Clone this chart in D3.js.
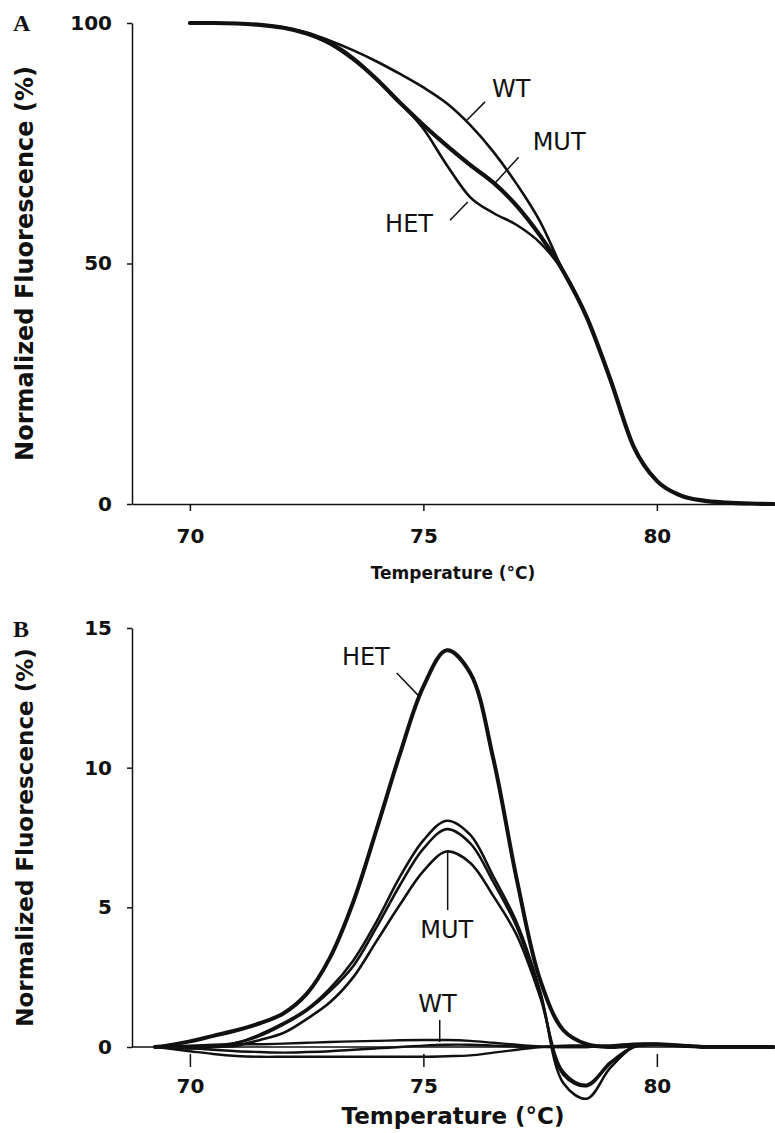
<!DOCTYPE html>
<html>
<head>
<meta charset="utf-8">
<script src="https://cdn.jsdelivr.net/npm/d3@7"></script>
<style>
body { margin: 0; background: #fff; }
</style>
</head>
<body>
<script>
// Panel A: normalized melting curves
var tempsA = [70, 70.5, 71, 71.5, 72, 72.5, 73, 73.5, 74, 74.5, 75, 75.5, 76, 76.5, 77, 77.5, 78, 78.5, 79, 79.5, 80, 80.5, 81, 81.5, 82, 82.5];
var wtA  = [100, 100, 99.9, 99.6, 99.1, 98.0, 96.3, 94.3, 92.0, 89.4, 86.6, 83.3, 78.8, 73.2, 66.5, 58.7, 48.3, 38.8, 26.0, 12.0, 4.8, 1.8, 0.7, 0.3, 0.1, 0];
var mutA = [100, 100, 99.9, 99.6, 99.0, 97.8, 95.8, 92.6, 88.3, 83.4, 78.8, 74.5, 70.5, 66.8, 62.0, 55.8, 48.3, 38.8, 26.0, 12.0, 4.8, 1.8, 0.7, 0.3, 0.1, 0];
var hetA = [100, 100, 99.9, 99.6, 99.0, 97.8, 95.6, 92.3, 88.2, 83.5, 78.0, 70.5, 63.8, 60.5, 58.0, 54.3, 48.3, 38.8, 26.0, 12.0, 4.8, 1.8, 0.7, 0.3, 0.1, 0];

// Panel B: difference curves (3 replicates per genotype)
var tempsB = [69.25, 69.5, 70, 70.5, 71, 71.5, 72, 72.5, 73, 73.5, 74, 74.5, 75, 75.5, 76, 76.5, 77, 77.5, 78, 78.5, 79, 79.5, 80, 80.5, 81, 81.5, 82, 82.5];
var hetB  = [0, 0.05, 0.2, 0.4, 0.6, 0.85, 1.2, 1.9, 3.2, 5.2, 7.8, 10.5, 12.9, 14.2, 13.4, 10.3, 6.0, 2.4, 0.6, 0.1, 0, 0.05, 0.1, 0.05, 0, 0, 0, 0];
var mut1B = [0, 0, -0.05, 0, 0.15, 0.45, 0.85, 1.35, 2.1, 3.1, 4.5, 6.1, 7.4, 8.1, 7.6, 6.1, 4.45, 2.0, -1.3, -1.85, -0.75, 0, 0.1, 0.05, 0, 0, 0, 0];
var mut2B = [0, 0, 0, 0.05, 0.15, 0.4, 0.8, 1.3, 2.0, 2.9, 4.3, 5.8, 7.1, 7.8, 7.3, 5.9, 4.3, 1.9, -1.0, -1.4, -0.6, 0, 0.1, 0.05, 0, 0, 0, 0];
var mut3B = [0, 0, 0, 0, 0.05, 0.25, 0.5, 1.0, 1.6, 2.5, 3.8, 5.1, 6.3, 7.0, 6.6, 5.4, 4.0, 1.8, -0.9, -1.35, -0.55, 0, 0.1, 0.05, 0, 0, 0, 0];
var wt1B  = [0, 0.02, 0.05, 0.08, 0.1, 0.1, 0.12, 0.15, 0.18, 0.2, 0.22, 0.24, 0.25, 0.25, 0.22, 0.15, 0.08, 0.02, 0, 0, 0.05, 0.12, 0.12, 0.05, 0.02, 0, 0, 0];
var wt2B  = [0, -0.05, -0.15, -0.25, -0.32, -0.35, -0.35, -0.35, -0.35, -0.35, -0.35, -0.35, -0.35, -0.33, -0.3, -0.2, -0.1, 0, 0.05, 0.05, 0.05, 0.1, 0.1, 0.05, 0, 0, 0, 0];
var wt3B  = [0, -0.02, -0.05, -0.1, -0.15, -0.18, -0.2, -0.18, -0.15, -0.1, -0.05, 0, 0.05, 0.08, 0.08, 0.05, 0.02, 0, 0, 0, 0.03, 0.08, 0.08, 0.03, 0, 0, 0, 0];

var xTicks = [70, 75, 80];
var yTicksA = [0, 50, 100];
var yTicksB = [0, 5, 10, 15];

// labels: [text, temperature, value, anchor]
var labelsA = [["WT", 76.47, 84.6, "start"], ["MUT", 77.34, 73.6, "start"], ["HET", 74.18, 56.5, "start"]];
var leadersA = [[76.32, 83.6, 75.93, 79.8], [77.04, 72.1, 76.53, 66.7], [75.95, 62.8, 75.57, 59.0]];
var labelsB = [["HET", 74.28, 13.68, "end"], ["MUT", 75.5, 3.9, "middle"], ["WT", 75.3, 1.25, "middle"]];
var leadersB = [[74.43, 13.39, 74.9, 12.57], [75.52, 7.05, 75.52, 4.9], [75.35, 0.97, 75.35, 0.18]];

var W = 775, H = 1133;
var svg = d3.select("body").append("svg").attr("width", W).attr("height", H);
var ink = "#111";
var sans = "DejaVu Sans, Verdana, sans-serif";

var x = d3.scaleLinear().domain([68.76, 82.53]).range([132, 775]);
var yA = d3.scaleLinear().domain([0, 100]).range([504, 23]);
var yB = d3.scaleLinear().domain([0, 15]).range([1047, 628]);

function styleAxis(g, size) {
  g.selectAll("path, line").attr("stroke", ink).attr("stroke-width", 1.5);
  g.selectAll("text").attr("fill", ink).attr("font-family", sans)
    .attr("font-weight", "bold").attr("font-size", size);
}

function drawLine(yScale, temps, vals, width, curve) {
  svg.append("path")
    .datum(temps.map((t, i) => [t, vals[i]]))
    .attr("fill", "none").attr("stroke", ink).attr("stroke-width", width)
    .attr("stroke-linejoin", "round").attr("stroke-linecap", "round")
    .attr("d", d3.line().x(d => x(d[0])).y(d => yScale(d[1])).curve(curve));
}

function drawLabels(yScale, labels, leaders) {
  leaders.forEach(l => {
    svg.append("line")
      .attr("x1", x(l[0])).attr("y1", yScale(l[1]))
      .attr("x2", x(l[2])).attr("y2", yScale(l[3]))
      .attr("stroke", ink).attr("stroke-width", 1.5);
  });
  labels.forEach(l => {
    svg.append("text").attr("x", x(l[1])).attr("y", yScale(l[2]))
      .attr("text-anchor", l[3]).attr("font-family", sans)
      .attr("font-size", 24).attr("fill", ink).text(l[0]);
  });
}

function yTitle(cx, cy, size) {
  svg.append("text")
    .attr("transform", "translate(" + cx + "," + cy + ") rotate(-90)")
    .attr("text-anchor", "middle").attr("dy", "0.36em")
    .attr("font-family", sans).attr("font-weight", "bold")
    .attr("font-size", size).attr("fill", ink)
    .text("Normalized Fluorescence (%)");
}

function panelLetter(txt, px, py) {
  svg.append("text").attr("x", px).attr("y", py)
    .attr("font-family", "Liberation Serif, Times New Roman, serif")
    .attr("font-weight", "bold").attr("font-size", 24).attr("fill", ink)
    .text(txt);
}

// ---------- Panel A ----------
var gxA = svg.append("g").attr("transform", "translate(0," + yA(0) + ")")
  .call(d3.axisBottom(x).tickValues(xTicks).tickSize(7).tickSizeOuter(0).tickPadding(18));
styleAxis(gxA, 20);
var gyA = svg.append("g").attr("transform", "translate(" + x.range()[0] + ",0)")
  .call(d3.axisLeft(yA).tickValues(yTicksA).tickSize(5).tickSizeOuter(0).tickPadding(15));
styleAxis(gyA, 20);

drawLine(yA, tempsA, wtA, 2.6, d3.curveMonotoneX);
drawLine(yA, tempsA, hetA, 2.6, d3.curveMonotoneX);
drawLine(yA, tempsA, mutA, 4.2, d3.curveMonotoneX);
drawLabels(yA, labelsA, leadersA);

yTitle(24, (yA(0) + yA(100)) / 2, 24);
svg.append("text").attr("x", 453).attr("y", 579).attr("text-anchor", "middle")
  .attr("font-family", sans).attr("font-weight", "bold").attr("font-size", 17)
  .attr("fill", ink).text("Temperature (°C)");
panelLetter("A", 13, 31);

// ---------- Panel B ----------
svg.append("line").attr("x1", x.range()[0]).attr("x2", x.range()[1])
  .attr("y1", yB(0)).attr("y2", yB(0)).attr("stroke", ink).attr("stroke-width", 1.5);
var gxB = svg.append("g").attr("transform", "translate(0," + (yB(0) + 7) + ")")
  .call(d3.axisBottom(x).tickValues(xTicks).tickSize(13).tickSizeOuter(0).tickPadding(12));
gxB.select(".domain").remove();
styleAxis(gxB, 20);
var gyB = svg.append("g").attr("transform", "translate(" + x.range()[0] + ",0)")
  .call(d3.axisLeft(yB).tickValues(yTicksB).tickSize(5).tickSizeOuter(0).tickPadding(15));
styleAxis(gyB, 20);

[wt1B, wt2B, wt3B].forEach(s => drawLine(yB, tempsB, s, 2.4, d3.curveCatmullRom));
[mut1B, mut2B, mut3B].forEach(s => drawLine(yB, tempsB, s, 2.6, d3.curveCatmullRom));
drawLine(yB, tempsB, hetB, 4, d3.curveCatmullRom);
drawLabels(yB, labelsB, leadersB);

yTitle(25, (yB(0) + yB(15)) / 2, 23);
svg.append("text").attr("x", 453).attr("y", 1124).attr("text-anchor", "middle")
  .attr("font-family", sans).attr("font-weight", "bold").attr("font-size", 23)
  .attr("fill", ink).text("Temperature (°C)");
panelLetter("B", 13, 637);
</script>
</body>
</html>
